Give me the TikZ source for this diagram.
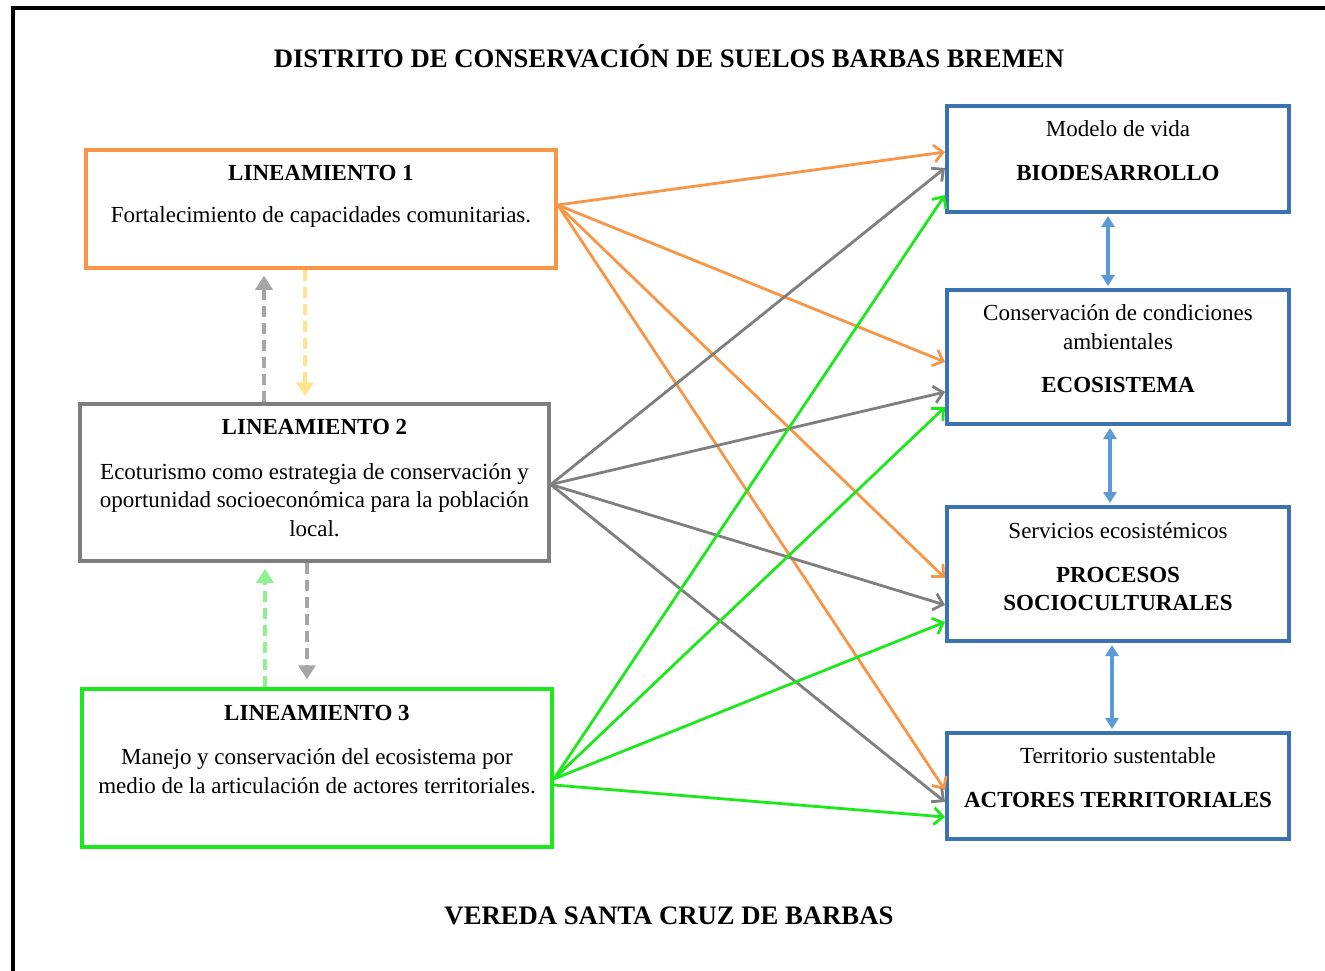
\documentclass[tikz,border=0pt]{standalone}
\usepackage{fontspec}
\setmainfont{Liberation Serif}
\usetikzlibrary{arrows.meta,calc}
\definecolor{cOr}{HTML}{F79646}
\definecolor{cGr}{HTML}{7F7F7F}
\definecolor{cGn}{RGB}{28,232,28}
\definecolor{cBl}{HTML}{3A72B2}
\definecolor{cBa}{HTML}{5B9BD5}
\definecolor{cLg}{HTML}{A6A6A6}
\definecolor{cYe}{HTML}{FFE38F}
\definecolor{cLn}{HTML}{8EF08E}
\begin{document}
\begin{tikzpicture}[x=1pt,y=-1pt,
  box/.style={draw, line width=3.5pt, inner sep=0pt, fill=none},
  rbox/.style={box, draw=cBl, line width=4pt, minimum width=342pt},
  tx/.style={inner sep=0pt, align=center, font=\fontsize{23}{28.5}\selectfont},
  bt/.style={inner sep=0pt, align=center, font=\fontsize{23}{28.5}\selectfont\bfseries},
  ttl/.style={inner sep=0pt, font=\fontsize{26.7}{30}\selectfont\bfseries},
  conn/.style={line width=2.8pt, -{Straight Barb[length=9pt,width=17pt]}},
  barr/.style={draw=cBa, line width=3.8pt, {Triangle[length=11pt,width=13pt]}-{Triangle[length=11pt,width=13pt]}, shorten <=2pt, shorten >=2pt},
  dsh/.style={line width=4pt, dash pattern=on 11pt off 6pt, -{Triangle[length=14pt,width=17pt]}}
]
\clip (0,0) rectangle (1325,971);
\useasboundingbox (0,0) rectangle (1325,971);
\fill[white] (0,0) rectangle (1325,971);
% frame
\draw[line width=4pt] (13,990) -- (13,8) -- (1340,8);

% titles
\node[ttl] (title) at (669,56) {DISTRITO DE CONSERVACIÓN DE SUELOS BARBAS BREMEN};
\node[ttl] (foot) at (669,916) {VEREDA SANTA CRUZ DE BARBAS};

% left boxes
\node[box, draw=cOr, minimum width=470pt, minimum height=118pt] (l1) at (321,209) {};
\node[box, draw=cGr, minimum width=469pt, minimum height=157pt] (l2) at (314.5,482.5) {};
\node[box, draw=cGn, minimum width=470pt, minimum height=158pt] (l3) at (317,768) {};

\node[bt] (l1h) at (321,173) {LINEAMIENTO 1};
\node[tx] (l1b) at (321,217) {Fortalecimiento de capacidades comunitarias.};
\node[bt] (l2h) at (314.5,427) {LINEAMIENTO 2};
\node[tx] (l2b) at (314.5,500) {Ecoturismo como estrategia de conservación y\\oportunidad socioeconómica para la población\\local.};
\node[bt] (l3h) at (317,713) {LINEAMIENTO 3};
\node[tx] (l3b) at (317,771) {Manejo y conservación del ecosistema por\\medio de la articulación de actores territoriales.};

% right boxes
\node[rbox, minimum height=106pt] (b1) at (1118,159) {};
\node[rbox, minimum height=134pt] (b2) at (1118,357) {};
\node[rbox, minimum height=134pt] (b3) at (1118,574) {};
\node[rbox, minimum height=106pt] (b4) at (1118,786) {};

\node[tx] (b1a) at (1118,129) {Modelo de vida};
\node[bt] (b1b) at (1118,173) {BIODESARROLLO};
\node[tx] (b2a) at (1118,327) {Conservación de condiciones\\ambientales};
\node[bt] (b2b) at (1118,385) {ECOSISTEMA};
\node[tx] (b3a) at (1118,531) {Servicios ecosistémicos};
\node[bt] (b3b) at (1118,589) {PROCESOS\\SOCIOCULTURALES};
\node[tx] (b4a) at (1118,756) {Territorio sustentable};
\node[bt] (b4b) at (1118,800) {ACTORES TERRITORIALES};

% blue double arrows
\draw[barr] ([xshift=-10pt]b1.south) -- ([xshift=-10pt]b2.north);
\draw[barr] ([xshift=-8pt]b2.south) -- ([xshift=-8pt]b3.north);
\draw[barr] ([xshift=-6pt]b3.south) -- ([xshift=-6pt]b4.north);

% dashed vertical arrows
\draw[dsh, draw=cLg, fill=cLg, shorten >=6pt] ([xshift=-50.5pt]l2.north) coordinate (d1) -- (d1 |- l1.south);
\draw[dsh, draw=cYe, fill=cYe, shorten >=6pt] ([xshift=-16pt]l1.south) coordinate (d2) -- (d2 |- l2.north);
\draw[dsh, draw=cLn, fill=cLn, shorten >=6pt] ([xshift=-52pt]l3.north) coordinate (d3) -- (d3 |- l2.south);
\draw[dsh, draw=cLg, fill=cLg, shorten >=8pt] ([xshift=-7.5pt]l2.south) coordinate (d4) -- (d4 |- l3.north);

% orange connectors
\draw[conn, cOr] ([yshift=4pt]l1.east) -- ([yshift=7pt]b1.west);
\draw[conn, cOr] ([yshift=4pt]l1.east) -- ([yshift=-5pt]b2.west);
\draw[conn, cOr] ([yshift=4pt]l1.east) -- ([yshift=-4pt]b3.west);
\draw[conn, cOr] ([yshift=4pt]l1.east) -- ([yshift=-4pt]b4.west);
% gray connectors
\draw[conn, cGr] ([yshift=-2pt]l2.east) -- ([yshift=-9pt]b1.west);
\draw[conn, cGr] ([yshift=-2pt]l2.east) -- ([yshift=-35pt]b2.west);
\draw[conn, cGr] ([yshift=-2pt]l2.east) -- ([yshift=-31pt]b3.west);
\draw[conn, cGr] ([yshift=-2pt]l2.east) -- ([yshift=-16pt]b4.west);
% green connectors
\draw[conn, cGn] ([yshift=-11pt]l3.east) -- ([yshift=-36pt]b1.west);
\draw[conn, cGn] ([yshift=-11pt]l3.east) -- ([yshift=-50pt]b2.west);
\draw[conn, cGn] ([yshift=-11pt]l3.east) -- ([yshift=-48pt]b3.west);
\draw[conn, cGn] ([yshift=-17pt]l3.east) -- ([yshift=-31pt]b4.west);
\end{tikzpicture}
\end{document}
